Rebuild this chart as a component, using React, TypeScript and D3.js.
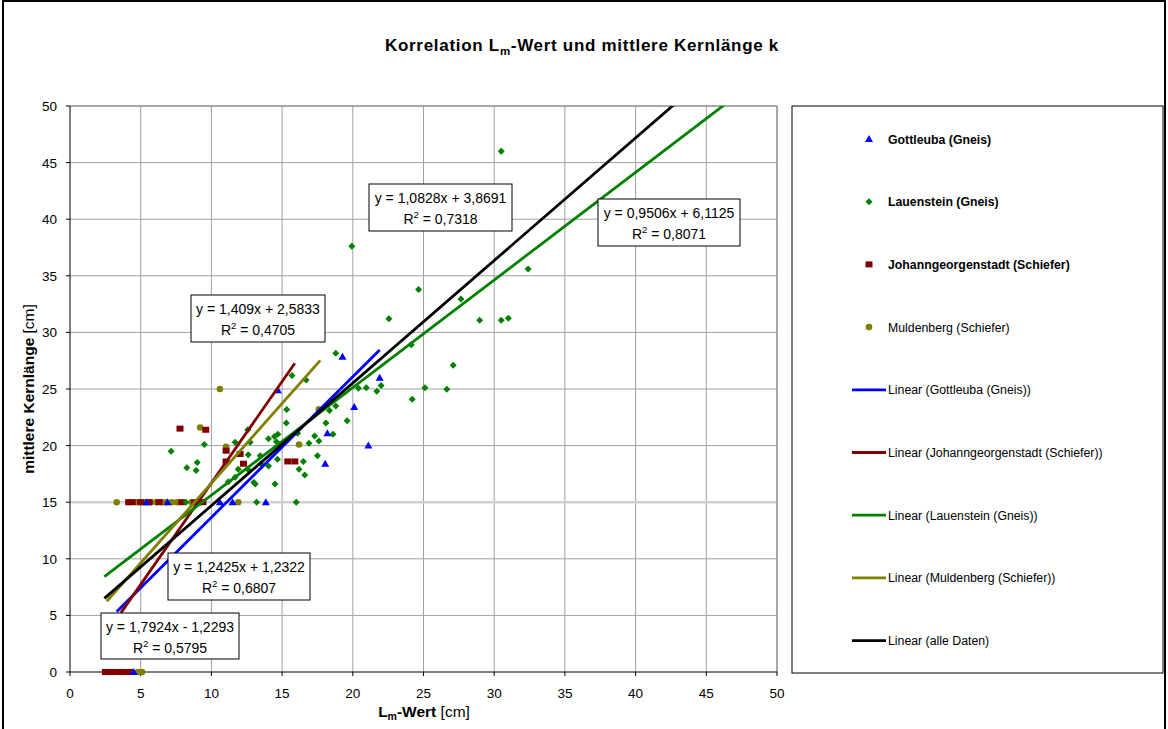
import * as d3 from 'd3';

// Korrelation Lm-Wert / mittlere Kernlänge – scatter with trend lines
const W = 1168;
const H = 729;

const xTicks = [0, 5, 10, 15, 20, 25, 30, 35, 40, 45, 50];
const yTicks = [0, 5, 10, 15, 20, 25, 30, 35, 40, 45, 50];

// [Lm-Wert, Kernlänge]
const gottleuba: [number, number][] = [
  [4.5, 0], [5.4, 15], [6.9, 15], [10.6, 15], [11.5, 15], [13.85, 15],
  [14.7, 24.9], [18.05, 18.4], [18.2, 21.1], [19.27, 27.85], [20.1, 23.4],
  [21.1, 20.0], [21.9, 26.0],
];

const lauenstein: [number, number][] = [
  [8.2, 15], [13.2, 15], [16.0, 15],
  [7.15, 19.5], [8.26, 18.05], [9.0, 18.5], [8.92, 17.8], [9.5, 20.1],
  [11.68, 20.3], [12.57, 21.4], [12.74, 20.3], [12.6, 19.2], [11.9, 17.9],
  [11.68, 17.2], [11.2, 16.8], [12.57, 17.9], [13.0, 16.75], [13.1, 16.6],
  [13.45, 19.1], [13.5, 18.4], [14.04, 20.6], [14.04, 18.2], [14.46, 20.8],
  [14.7, 21.0], [14.6, 20.35], [14.67, 18.8], [14.5, 16.6], [15.33, 23.2],
  [15.3, 22.0], [16.1, 21.1], [16.5, 18.6], [16.2, 17.9], [16.6, 17.4],
  [16.9, 20.2], [16.7, 25.8], [15.7, 26.2], [17.3, 20.85], [17.6, 20.4],
  [17.5, 19.1], [18.1, 22.0], [18.35, 23.1], [18.6, 21.0], [18.8, 23.5],
  [18.8, 28.15], [19.6, 22.2], [20.4, 25.06], [20.95, 25.1], [21.7, 24.8],
  [22.0, 25.3], [22.55, 31.2], [19.93, 37.6], [24.2, 24.1], [24.13, 28.9],
  [24.65, 33.8], [25.1, 25.1], [26.65, 24.97], [27.1, 27.1], [27.65, 32.95],
  [28.97, 31.07], [30.5, 31.07], [31.0, 31.25], [32.4, 35.6], [30.5, 46.0],
];

const johanngeorgenstadt: [number, number][] = [
  [2.5, 0], [2.8, 0], [3.1, 0], [3.4, 0], [3.7, 0], [4.0, 0], [4.25, 0],
  [4.15, 15], [4.4, 15], [5.0, 15], [5.6, 15], [6.3, 15], [7.9, 15],
  [8.8, 15], [9.1, 15], [9.4, 15],
  [7.78, 21.5], [9.6, 21.4], [11.04, 19.55], [11.04, 18.6], [12.03, 19.26],
  [12.27, 18.4], [15.4, 18.6], [15.9, 18.6],
];

const muldenberg: [number, number][] = [
  [2.7, 0], [3.0, 0], [3.6, 0], [3.8, 0], [4.8, 0], [5.1, 0],
  [3.3, 15], [4.7, 15], [5.0, 15], [5.3, 15], [5.7, 15], [6.1, 15], [6.5, 15],
  [6.8, 15], [7.2, 15], [7.55, 15], [8.6, 15], [11.9, 15],
  [9.2, 21.6], [10.6, 25.0], [11.04, 19.9], [16.2, 20.1], [17.6, 23.2],
];

// trend lines: slope, intercept, x range
const trendNames = ['Gottleuba', 'Johanngeorgenstadt', 'Lauenstein', 'Muldenberg', 'alle'];
const trendSlopes = [1.2425, 1.7924, 0.9506, 1.409, 1.0828];
const trendIntercepts = [1.2322, -1.2293, 6.1125, 2.5833, 3.8691];
const trendFrom = [3.3, 3.6, 2.43, 2.6, 2.43];
const trendTo = [21.9, 15.9, 50, 17.7, 50];
const trendR2 = ['0,6807', '0,5795', '0,8071', '0,4705', '0,7318'];
const trendEq = [
  'y = 1,2425x + 1,2322',
  'y = 1,7924x - 1,2293',
  'y = 0,9506x + 6,1125',
  'y = 1,409x + 2,5833',
  'y = 1,0828x + 3,8691',
];
const trendColors = ['#0000ff', '#800000', '#008000', '#808000', '#000000'];

// equation box placement (pixels)
const eqBoxes = [
  { x: 168, y: 553, w: 142, h: 47 },
  { x: 101, y: 613, w: 138, h: 46 },
  { x: 598, y: 199, w: 142, h: 47 },
  { x: 191, y: 295, w: 134, h: 47 },
  { x: 369, y: 184, w: 143, h: 47 },
];

const legendItems = [
  { label: 'Gottleuba (Gneis)', kind: 'tri', color: '#0000ff', bold: true },
  { label: 'Lauenstein (Gneis)', kind: 'dia', color: '#008000', bold: true },
  { label: 'Johanngeorgenstadt (Schiefer)', kind: 'sq', color: '#800000', bold: true },
  { label: 'Muldenberg (Schiefer)', kind: 'circ', color: '#808000', bold: false },
  { label: 'Linear (Gottleuba (Gneis))', kind: 'line', color: '#0000ff', bold: false },
  { label: 'Linear (Johanngeorgenstadt (Schiefer))', kind: 'line', color: '#800000', bold: false },
  { label: 'Linear (Lauenstein (Gneis))', kind: 'line', color: '#008000', bold: false },
  { label: 'Linear (Muldenberg (Schiefer))', kind: 'line', color: '#808000', bold: false },
  { label: 'Linear (alle Daten)', kind: 'line', color: '#000000', bold: false },
];

const FONT = 'Arial, "Liberation Sans", sans-serif';

const left = 70, right = 777, top = 106, bottom = 672;
const x = d3.scaleLinear().domain([0, 50]).range([left, right]);
const y = d3.scaleLinear().domain([0, 50]).range([bottom, top]);

function Marker({ kind, cx, cy, color }: { kind: string; cx: number; cy: number; color: string }) {
  if (kind === 'tri')
    return <polygon points={`${cx},${cy - 4} ${cx + 4},${cy + 3} ${cx - 4},${cy + 3}`} fill={color} />;
  if (kind === 'dia')
    return <polygon points={`${cx},${cy - 3.5} ${cx + 3.5},${cy} ${cx},${cy + 3.5} ${cx - 3.5},${cy}`} fill={color} />;
  if (kind === 'sq') return <rect x={cx - 3.5} y={cy - 3} width={7} height={6} fill={color} />;
  return <circle cx={cx} cy={cy} r={3.3} fill={color} />;
}

export default function App() {
  const series = [
    { data: muldenberg, kind: 'circ', color: '#808000' },
    { data: johanngeorgenstadt, kind: 'sq', color: '#800000' },
    { data: lauenstein, kind: 'dia', color: '#008000' },
    { data: gottleuba, kind: 'tri', color: '#0000ff' },
  ];
  const line = d3.line<[number, number]>().x((d) => x(d[0])).y((d) => y(d[1]));

  return (
    <svg width={W} height={H} style={{ position: 'absolute', left: 0, top: 0, fontFamily: FONT }}>
      <rect x={0} y={0} width={W} height={H} fill="#fff" />
      <rect x={3} y={1} width={1162} height={780} fill="none" stroke="#000" strokeWidth={2} />

      <text x={582} y={51} textAnchor="middle" fontSize={17} fontWeight="bold" letterSpacing={0.7}>
        Korrelation L<tspan fontSize={11.5} dy={4}>m</tspan>
        <tspan dy={-4}>-Wert und mittlere Kernlänge k</tspan>
      </text>

      <defs>
        <clipPath id="plot">
          <rect x={left} y={top} width={right - left} height={bottom - top} />
        </clipPath>
      </defs>

      {/* grid */}
      {xTicks.slice(1).map((t) => (
        <line key={'gx' + t} x1={x(t)} x2={x(t)} y1={top} y2={bottom} stroke="#a0a0a0" strokeWidth={1} />
      ))}
      {yTicks.slice(1).map((t) => (
        <line
          key={'gy' + t}
          x1={left}
          x2={right}
          y1={y(t)}
          y2={y(t)}
          stroke={t === 15 ? '#d0d0d0' : '#a0a0a0'}
          strokeWidth={t === 15 ? 2.5 : 1}
        />
      ))}
      <line x1={left} x2={right} y1={top} y2={top} stroke="#808080" />
      <line x1={right} x2={right} y1={top} y2={bottom} stroke="#808080" />

      {/* axes */}
      <line x1={left} x2={left} y1={top} y2={bottom} stroke="#000" />
      <line x1={left} x2={right} y1={bottom} y2={bottom} stroke="#000" />
      {yTicks.map((t) => (
        <g key={'ty' + t}>
          <line x1={left - 4} x2={left} y1={y(t)} y2={y(t)} stroke="#000" />
          <text x={57} y={y(t) + 5} textAnchor="end" fontSize={13.5}>{t}</text>
        </g>
      ))}
      {xTicks.map((t) => (
        <g key={'tx' + t}>
          <line x1={x(t)} x2={x(t)} y1={bottom} y2={bottom + 4} stroke="#000" />
          <text x={x(t)} y={698} textAnchor="middle" fontSize={13.5}>{t}</text>
        </g>
      ))}

      <text transform="translate(34,389) rotate(-90)" textAnchor="middle" fontSize={15.5}>
        <tspan fontWeight="bold">mittlere Kernlänge</tspan> [cm]
      </text>
      <text x={424} y={717} textAnchor="middle" fontSize={15.5}>
        <tspan fontWeight="bold">L</tspan>
        <tspan fontWeight="bold" fontSize={10.5} dy={3}>m</tspan>
        <tspan fontWeight="bold" dy={-3}>-Wert</tspan> [cm]
      </text>

      {/* points */}
      <g>
        {series.map((s, si) =>
          s.data.map((d, i) => <Marker key={si + '-' + i} kind={s.kind} cx={x(d[0])} cy={y(d[1])} color={s.color} />)
        )}
      </g>

      {/* trend lines */}
      <g clipPath="url(#plot)">
        {trendNames.map((n, i) => {
          const pts: [number, number][] = [trendFrom[i], trendTo[i]].map(
            (v) => [v, trendSlopes[i] * v + trendIntercepts[i]] as [number, number]
          );
          return <path key={n} d={line(pts) ?? ''} stroke={trendColors[i]} strokeWidth={2.8} fill="none" />;
        })}
      </g>

      {/* equation boxes */}
      {eqBoxes.map((b, i) => (
        <g key={'eq' + i}>
          <rect x={b.x} y={b.y} width={b.w} height={b.h} fill="#fff" stroke="#000" strokeWidth={1} />
          <text x={b.x + b.w / 2} y={b.y + 19} textAnchor="middle" fontSize={14}>{trendEq[i]}</text>
          <text x={b.x + b.w / 2} y={b.y + 40} textAnchor="middle" fontSize={14}>
            R<tspan fontSize={9.5} dy={-6}>2</tspan>
            <tspan dy={6}> = {trendR2[i]}</tspan>
          </text>
        </g>
      ))}

      {/* legend */}
      <rect x={792} y={106} width={371} height={567} fill="#fff" stroke="#000" strokeWidth={1} />
      {legendItems.map((it, i) => {
        const ly = 139 + i * 62.7;
        return (
          <g key={'lg' + i}>
            {it.kind === 'line' ? (
              <line x1={852} x2={886} y1={ly} y2={ly} stroke={it.color} strokeWidth={2.8} />
            ) : (
              <Marker kind={it.kind} cx={869} cy={ly} color={it.color} />
            )}
            <text x={888} y={ly + 4.5} fontSize={12.3} fontWeight={it.bold ? 'bold' : 'normal'}>
              {it.label}
            </text>
          </g>
        );
      })}
    </svg>
  );
}
